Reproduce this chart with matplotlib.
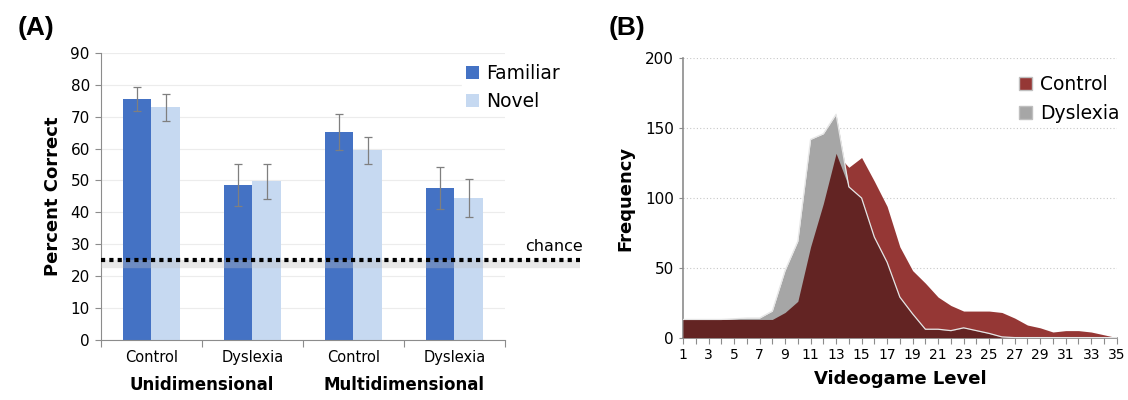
import numpy as np
import matplotlib.pyplot as plt
from matplotlib.patches import Patch

# Panel A data
groups = ["Control", "Dyslexia", "Control", "Dyslexia"]
conditions = ["Unidimensional", "Multidimensional"]
familiar = [75.6, 48.5, 65.1, 47.6]
familiar_err = [3.8, 6.5, 5.7, 6.7]
novel = [72.9, 49.7, 59.5, 44.5]
novel_err = [4.2, 5.6, 4.2, 6.0]
chance = 25

# Panel B data
levels = np.arange(1, 36)
control = [13, 13, 13, 13, 13, 13, 13, 13, 18, 26, 65, 96, 132, 122, 129,
           112, 94, 65, 48, 39, 29, 23, 19, 19, 19, 18, 14, 9, 7, 4, 5, 5, 4, 2, 0]
dyslexia = [13, 13, 13, 13, 13.5, 14, 14, 19, 48, 69, 142, 146, 160, 108, 100,
            72, 54, 29, 17, 6, 6, 5, 7, 5, 3, 0.5, 0, 0, 0, 0, 0, 0, 0, 0, 0]

blue = "#4472C4"
light_blue = "#C6D9F1"
red = "#953735"
grey = "#A6A6A6"
dark = "#632423"
axis_col = "#8c8c8c"

fig = plt.figure(figsize=(11.28, 4), dpi=100)

# ---- Panel A ----
ax = fig.add_axes([0.0895, 0.15, 0.358, 0.718])
x = np.arange(len(groups))
w = 0.285
ax.bar(x - w / 2, familiar, w, color=blue, label="Familiar", zorder=2)
ax.bar(x + w / 2, novel, w, color=light_blue, label="Novel", zorder=2)
ax.errorbar(x - w / 2, familiar, yerr=familiar_err, fmt="none", ecolor="#7f7f7f",
            elinewidth=0.9, capsize=3, capthick=0.9, zorder=3)
ax.errorbar(x + w / 2, novel, yerr=novel_err, fmt="none", ecolor="#7f7f7f",
            elinewidth=0.9, capsize=3, capthick=0.9, zorder=3)
ax.set_xlim(-0.5, 3.5)
ax.set_ylim(0, 90)
ax.set_yticks(range(0, 91, 10))
ax.yaxis.grid(True, color="#ececec", lw=0.8, zorder=0)
ax.set_axisbelow(True)
ax.set_xticks([-0.5, 0.5, 1.5, 2.5, 3.5])
ax.set_xticklabels([])
ax.tick_params(axis="x", length=5, color=axis_col)
ax.tick_params(axis="y", length=4, color=axis_col, labelsize=11, pad=4)
for i, g in enumerate(groups):
    ax.text(i, -5.5, g, ha="center", va="center", fontsize=10.5)
for i, c in enumerate(conditions):
    ax.text(0.5 + 2 * i, -14, c, ha="center", va="center", fontsize=12,
            fontweight="bold")
for s in ["top", "right"]:
    ax.spines[s].set_visible(False)
for s in ["left", "bottom"]:
    ax.spines[s].set_color(axis_col)
ax.set_ylabel("Percent Correct", fontsize=13, fontweight="bold", labelpad=6)

# chance line with a soft shadow
ax.plot([-0.5, 4.25], [chance - 1.2, chance - 1.2], color="#bfbfbf", lw=6,
        alpha=0.35, solid_capstyle="butt", clip_on=False, zorder=4)
ax.plot([-0.5, 4.25], [chance, chance], color="black", lw=3, ls=(0, (1, 1)),
        clip_on=False, zorder=5)
ax.text(4.27, chance + 1.8, "chance", ha="right", va="bottom", fontsize=11.5)

leg = ax.legend(loc="upper right", bbox_to_anchor=(1.17, 1.008), frameon=True,
                fontsize=13.5, handlelength=0.7, handleheight=0.7,
                handletextpad=0.4, labelspacing=0.5, borderpad=0.2)
leg.get_frame().set_edgecolor("white")
leg.get_frame().set_alpha(1)
ax.text(-0.161, 1.086, "(A)", transform=ax.transAxes, fontsize=19,
        fontweight="bold", family="Liberation Sans", ha="center", va="center")

# ---- Panel B ----
bx = fig.add_axes([0.6055, 0.156, 0.3845, 0.698])
ctl = np.array(control)
dys = np.array(dyslexia)
bx.fill_between(levels, 0, ctl, color=red, lw=0, zorder=2)
bx.fill_between(levels, 0, dys, color=grey, lw=0, zorder=2)
bx.fill_between(levels, 0, np.minimum(ctl, dys), color=dark, lw=0, zorder=3)
bx.plot(levels, dys, color="#e6e6e6", lw=0.9, zorder=4)
bx.set_xlim(1, 35)
bx.set_ylim(0, 200)
bx.set_yticks(range(0, 201, 50))
bx.set_xticks(levels)
bx.set_xticklabels([str(v) if v % 2 == 1 else "" for v in levels])
bx.yaxis.grid(True, color="#c8c8c8", lw=0.8, ls=(0, (1, 2)), zorder=0)
bx.set_axisbelow(True)
bx.tick_params(axis="x", length=4, color=axis_col, labelsize=10)
bx.tick_params(axis="y", length=3, color=axis_col, labelsize=11)
for s in ["top", "right"]:
    bx.spines[s].set_visible(False)
for s in ["left", "bottom"]:
    bx.spines[s].set_color(axis_col)
    bx.spines[s].set_linewidth(1.2)
bx.set_ylabel("Frequency", fontsize=13, fontweight="bold", labelpad=8)
bx.set_xlabel("Videogame Level", fontsize=13, fontweight="bold", labelpad=6)
handles = [Patch(facecolor=red, edgecolor="#bfbfbf", label="Control"),
           Patch(facecolor=grey, edgecolor="#bfbfbf", label="Dyslexia")]
bx.legend(handles=handles, loc="upper right", bbox_to_anchor=(1.045, 1.0),
          frameon=False, fontsize=13.5, handlelength=0.7, handleheight=0.7,
          handletextpad=0.4, labelspacing=0.5)
bx.text(-0.129, 1.109, "(B)", transform=bx.transAxes, fontsize=19,
        fontweight="bold", family="Liberation Sans", ha="center", va="center")

fig.savefig("out.png", dpi=100)
